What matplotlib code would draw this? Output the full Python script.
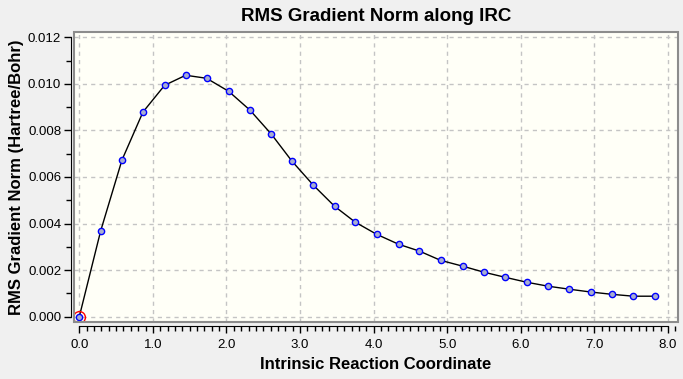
import matplotlib
matplotlib.use('Agg')
import matplotlib.pyplot as plt
from matplotlib.patches import Rectangle
from matplotlib.ticker import MultipleLocator, FormatStrFormatter

plt.rcParams['font.family'] = ['Liberation Sans', 'DejaVu Sans']

# IRC step coordinate and RMS gradient (Hartree/Bohr)
irc = [0.0, 0.29, 0.58, 0.865, 1.16, 1.446, 1.73, 2.03, 2.32, 2.61,
       2.89, 3.18, 3.47, 3.75, 4.04, 4.34, 4.62, 4.91, 5.21, 5.50,
       5.79, 6.08, 6.37, 6.66, 6.95, 7.24, 7.53, 7.82]
grad = [0.0, 0.00368, 0.00673, 0.00879, 0.00994, 0.01037, 0.01024, 0.00968,
        0.00887, 0.00784, 0.00668, 0.00565, 0.00474, 0.00406, 0.00354,
        0.00311, 0.00282, 0.00242, 0.00217, 0.00191, 0.00169, 0.00148,
        0.00131, 0.00118, 0.00106, 0.00096, 0.00088, 0.00088]

W, H = 683, 379
fig = plt.figure(figsize=(W/100, H/100), dpi=100, facecolor='#f0f0f0')
ax = fig.add_axes([74/W, 1-322/H, 604/W, 290/H])
ax.set_facecolor('#fffff7')

ax.plot(irc, grad, color='black', lw=1.0, zorder=3)
ax.plot(irc, grad, 'o', ms=4.5, mfc='#a8aed0', mec='#0000ff', mew=1.0, zorder=4)
ax.plot(irc[0], grad[0], 'o', ms=8.5, mfc='none', mec='red', mew=1.0, zorder=5)

ax.set_xlim(-0.072, 8.136)
ax.set_ylim(-0.000228, 0.012228)

ax.xaxis.set_major_locator(MultipleLocator(1.0))
ax.xaxis.set_minor_locator(MultipleLocator(0.1))
ax.xaxis.set_major_formatter(FormatStrFormatter('%.1f'))
ax.yaxis.set_major_locator(MultipleLocator(0.002))
ax.yaxis.set_minor_locator(MultipleLocator(0.001))
ax.yaxis.set_major_formatter(FormatStrFormatter('%.3f'))

ax.grid(True, which='major', ls=(0, (3, 3)), color='#c4c4c4', lw=1.0)
ax.set_axisbelow(True)

for s in ['top', 'right']:
    ax.spines[s].set_visible(False)
ax.spines['left'].set_position(('outward', 2.2))
ax.spines['bottom'].set_position(('outward', 2.9))
ax.spines['left'].set_bounds(0, 0.012)
ax.spines['bottom'].set_bounds(0, 8)
ax.add_patch(Rectangle((0, 0), 1, 1, transform=ax.transAxes, fill=False,
                       edgecolor='#8c8c8c', lw=1.5, clip_on=False, zorder=6))

ax.tick_params(which='major', length=5, width=1, labelsize=9.5)
ax.tick_params(axis='x', which='major', pad=4)
ax.tick_params(axis='y', which='major', pad=2)
ax.tick_params(which='minor', length=3.5, width=1)

ax.set_title('RMS Gradient Norm along IRC', fontsize=13.5, fontweight='bold', pad=8)
ax.set_xlabel('Intrinsic Reaction Coordinate', fontsize=12, fontweight='bold', labelpad=5)
ax.set_ylabel('RMS Gradient Norm (Hartree/Bohr)', fontsize=12, fontweight='bold', labelpad=3)

fig.savefig('out.png', dpi=100, facecolor=fig.get_facecolor())
